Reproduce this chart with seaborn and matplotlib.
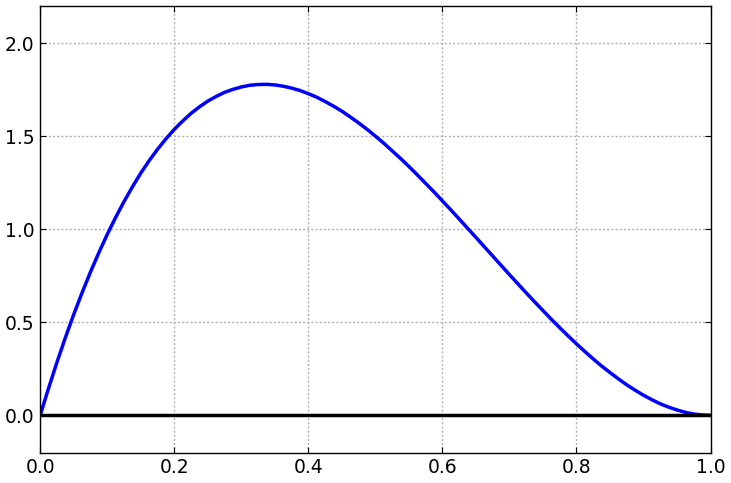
import matplotlib
matplotlib.use("Agg")
import matplotlib.pyplot as plt
import seaborn as sns
import pandas as pd

# values
x_vals = [0.0, 0.0125, 0.025, 0.0375, 0.05, 0.0625, 0.075, 0.0875, 0.1, 0.1125,
          0.125, 0.1375, 0.15, 0.1625, 0.175, 0.1875, 0.2, 0.2125, 0.225, 0.2375,
          0.25, 0.2625, 0.275, 0.2875, 0.3, 0.3125, 0.325, 0.3375, 0.35, 0.3625,
          0.375, 0.3875, 0.4, 0.4125, 0.425, 0.4375, 0.45, 0.4625, 0.475, 0.4875,
          0.5, 0.5125, 0.525, 0.5375, 0.55, 0.5625, 0.575, 0.5875, 0.6, 0.6125,
          0.625, 0.6375, 0.65, 0.6625, 0.675, 0.6875, 0.7, 0.7125, 0.725, 0.7375,
          0.75, 0.7625, 0.775, 0.7875, 0.8, 0.8125, 0.825, 0.8375, 0.85, 0.8625,
          0.875, 0.8875, 0.9, 0.9125, 0.925, 0.9375, 0.95, 0.9625, 0.975, 0.9875, 1.0]
y_vals = [0.0, 0.146, 0.285, 0.417, 0.542, 0.659, 0.770, 0.874, 0.972, 1.063,
          1.148, 1.227, 1.301, 1.368, 1.429, 1.485, 1.536, 1.581, 1.622, 1.657,
          1.688, 1.713, 1.735, 1.751, 1.764, 1.773, 1.777, 1.778, 1.775, 1.768,
          1.758, 1.745, 1.728, 1.709, 1.686, 1.661, 1.634, 1.603, 1.571, 1.537,
          1.500, 1.462, 1.421, 1.380, 1.337, 1.292, 1.246, 1.200, 1.152, 1.104,
          1.055, 1.005, 0.956, 0.906, 0.856, 0.806, 0.756, 0.707, 0.658, 0.610,
          0.563, 0.516, 0.471, 0.427, 0.384, 0.343, 0.303, 0.265, 0.230, 0.196,
          0.164, 0.135, 0.108, 0.084, 0.062, 0.044, 0.029, 0.016, 0.007, 0.002, 0.0]
base_x = [0.0, 1.0]
base_y = [0.0, 0.0]

df = pd.DataFrame({"x": x_vals, "y": y_vals})
base = pd.DataFrame({"x": base_x, "y": base_y})

sns.set_style("ticks")
plt.rcParams.update({
    "font.family": ["DejaVu Sans"],
    "xtick.direction": "in",
    "ytick.direction": "in",
    "xtick.labelsize": 13.5,
    "ytick.labelsize": 13.5,
})

fig, ax = plt.subplots(figsize=(7.31, 4.83), dpi=100)
fig.subplots_adjust(left=0.055, right=0.972, top=0.988, bottom=0.063)

sns.lineplot(data=df, x="x", y="y", color="#0000ff", linewidth=2.5, ax=ax)
sns.lineplot(data=base, x="x", y="y", color="black", linewidth=2.5, ax=ax)

ax.set_xlim(0, 1)
ax.set_ylim(-0.2, 2.2)
ax.set_xticks([0.0, 0.2, 0.4, 0.6, 0.8, 1.0])
ax.set_yticks([0.0, 0.5, 1.0, 1.5, 2.0])
ax.set_xlabel("")
ax.set_ylabel("")
ax.grid(True, color="#b0b0b0", linestyle=(0, (1.5, 1.5)), linewidth=1)
ax.tick_params(top=True, right=True, length=4, color="black", labelcolor="black", pad=4)
for s in ax.spines.values():
    s.set_color("black")
    s.set_linewidth(1)

fig.savefig("out.png", dpi=100)
